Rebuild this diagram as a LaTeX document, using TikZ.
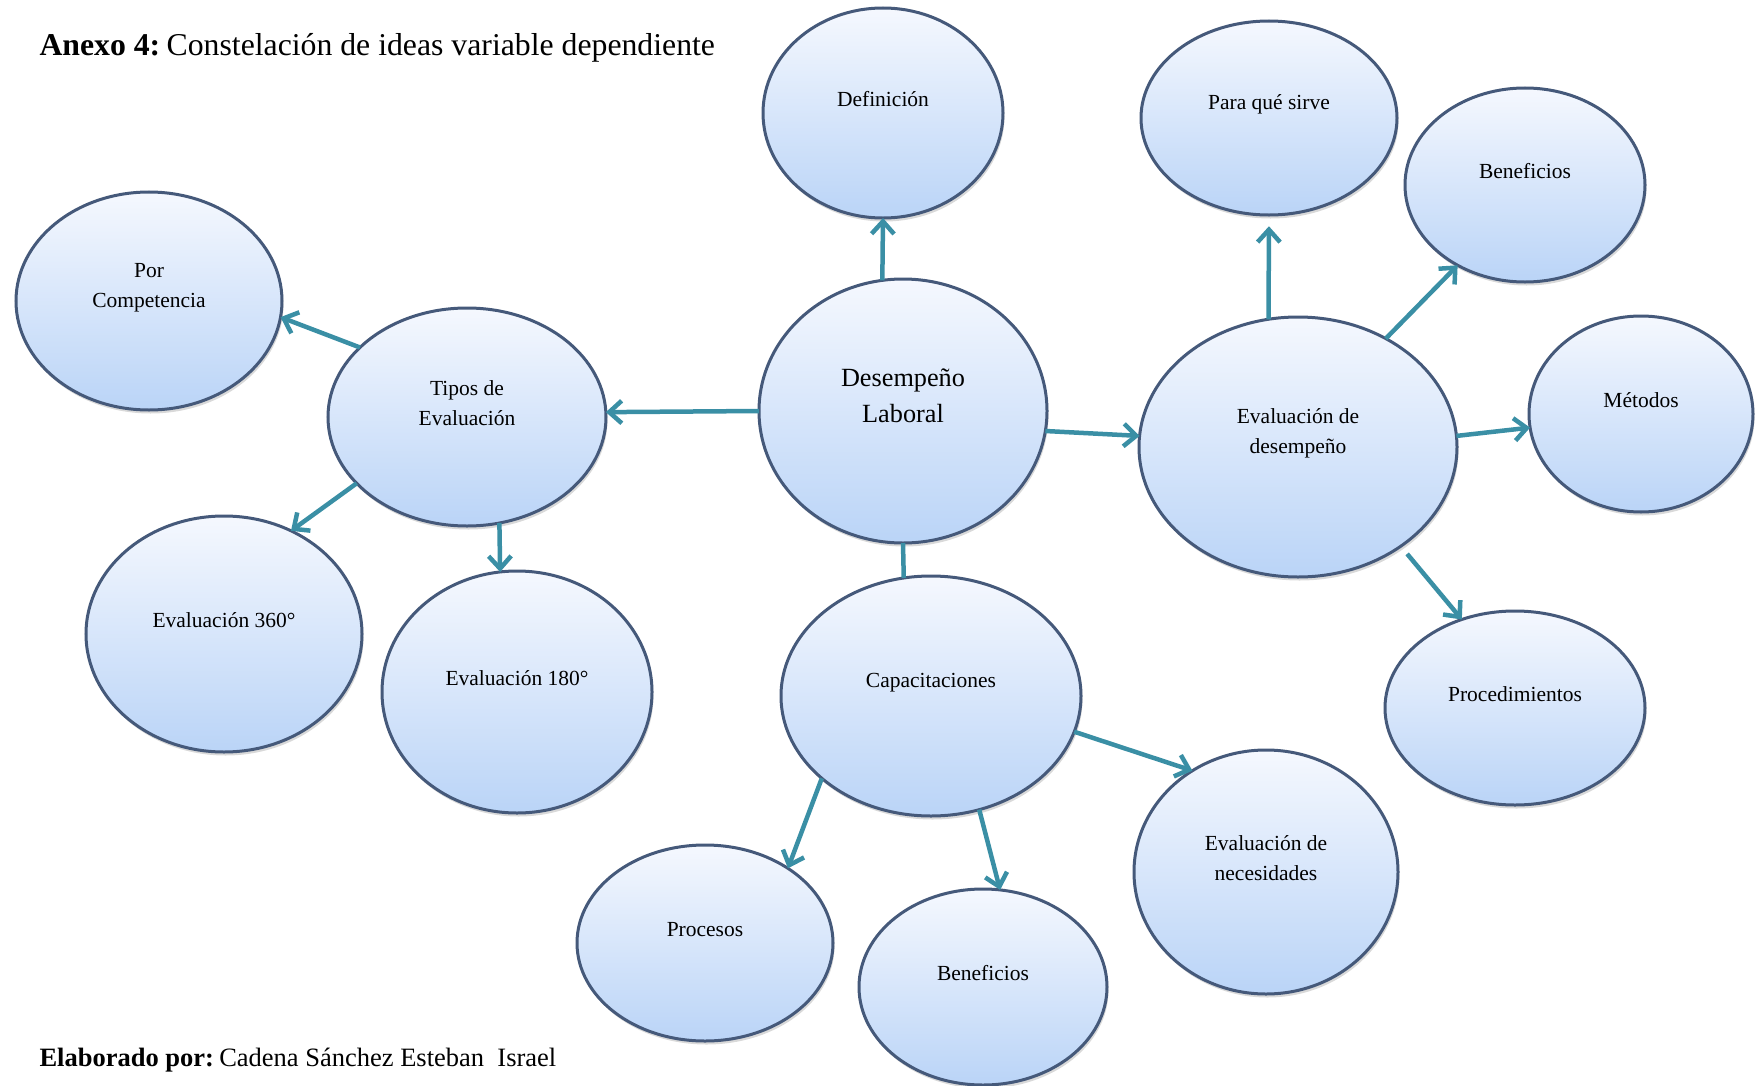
\documentclass[tikz,border=0pt]{standalone}
\usepackage{fontspec}
\setmainfont{Liberation Serif}
\usetikzlibrary{shapes.geometric,arrows.meta,shadows}
\definecolor{bubtop}{HTML}{F5F8FE}
\definecolor{bubbot}{HTML}{BAD4F7}
\definecolor{bubline}{HTML}{45597A}
\definecolor{arrcol}{HTML}{3A8FA5}
\tikzset{
  bubble/.style={ellipse, draw=bubline, line width=1.2pt, top color=bubtop, bottom color=bubbot,
    drop shadow={opacity=0.3, shadow xshift=0.6pt, shadow yshift=-1.4pt}, inner sep=0pt, outer sep=0pt},
  txt/.style={align=center, yshift=5.4pt, font=\fontsize{8.6}{12}\selectfont},
  conn/.style={draw=arrcol, line width=1.8pt, -{Straight Barb[length=5pt,width=9pt]}},
}
\begin{document}
\begin{tikzpicture}[x=0.4pt,y=-0.4pt]
 \useasboundingbox (0,0) rectangle (1755,1086);
 % titulo y autor
 \node[anchor=base west, font=\fontsize{12.7}{15}\selectfont, inner sep=0pt] (titulo) at (39,56) {\textbf{Anexo 4:}\hspace{0.2em}Constelación de ideas variable dependiente};
 \node[anchor=base west, font=\fontsize{10.6}{13}\selectfont, inner sep=0pt] (autor) at (39,1066) {\textbf{Elaborado por:}\hspace{0.2em}Cadena Sánchez Esteban\ \ Israel};
 % centro
 \node[bubble, minimum width=115.2pt, minimum height=105.6pt,
   label={[txt, font=\fontsize{10.5}{14.3}\selectfont, yshift=0.8pt]center:Desempeño\\Laboral}] (dl) at (903,411) {};
 \node[bubble, minimum width=96pt, minimum height=84pt, label={[txt]center:Definición}] (def) at (883,113) {};
 \node[bubble, minimum width=111.2pt, minimum height=87.2pt, label={[txt]center:Tipos de\\Evaluación}] (tipos) at (467,417) {};
 \node[bubble, minimum width=106.4pt, minimum height=87.2pt, label={[txt]center:Por\\Competencia}] (comp) at (149,301) {};
 \node[bubble, minimum width=110.4pt, minimum height=94.4pt, label={[txt]center:Evaluación 360°}] (ev360) at (224,634) {};
 \node[bubble, minimum width=108pt, minimum height=96.8pt, label={[txt]center:Evaluación 180°}] (ev180) at (517,692) {};
 \node[bubble, minimum width=127.2pt, minimum height=104pt, label={[txt]center:Evaluación de\\desempeño}] (evd) at (1298,447) {};
 \node[bubble, minimum width=102.4pt, minimum height=77.6pt, label={[txt]center:Para qué sirve}] (para) at (1269,118) {};
 \node[bubble, minimum width=96pt, minimum height=77.6pt, label={[txt]center:Beneficios}] (benA) at (1525,185) {};
 \node[bubble, minimum width=89.6pt, minimum height=78.4pt, label={[txt]center:Métodos}] (met) at (1641,414) {};
 \node[bubble, minimum width=104pt, minimum height=77.6pt, label={[txt]center:Procedimientos}] (proc) at (1515,708) {};
 \node[bubble, minimum width=120pt, minimum height=96pt, label={[txt]center:Capacitaciones}] (cap) at (931,696) {};
 \node[bubble, minimum width=105.6pt, minimum height=97.6pt, label={[txt]center:Evaluación de\\necesidades}] (nec) at (1266,872) {};
 \node[bubble, minimum width=102.4pt, minimum height=78.4pt, label={[txt]center:Procesos}] (pros) at (705,943) {};
 \node[bubble, minimum width=99.2pt, minimum height=78.4pt, label={[txt]center:Beneficios}] (benB) at (983,987) {};
 % conectores
 \draw[conn] (dl.99) -- (def.-90);
 \draw[conn] (dl.180) -- (tipos.2);
 \draw[conn] (dl.-8.5) -- (evd.176);
 \draw[conn, -] (dl.-90) -- (cap.103);
 \draw[conn] (tipos.147) -- (comp.-7.6);
 \draw[conn] (tipos.211.6) -- (ev360.57.6);
 \draw[conn] (tipos.-73) -- (ev180.98);
 \draw[conn, shorten >=4.5pt] (evd.103.4) -- (para.-90);
 \draw[conn] (evd.51.5) -- (benA.230);
 \draw[conn] (evd.4.8) -- (met.187);
 \draw[conn, shorten <=4pt] (evd.-44.7) -- (proc.121.8);
 \draw[conn] (cap.-14) -- (nec.126);
 \draw[conn] (cap.217.7) -- (pros.42.5);
 \draw[conn] (cap.-67.7) -- (benB.80);
\end{tikzpicture}
\end{document}
